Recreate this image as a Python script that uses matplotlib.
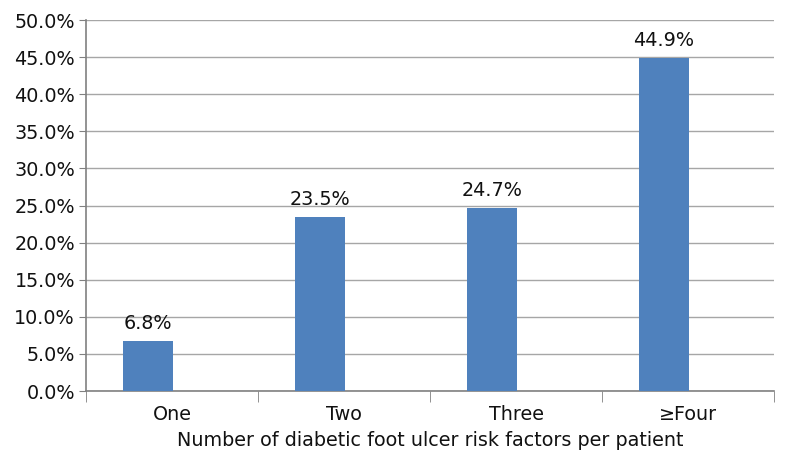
'''Répartition des patients selon le nombre de facteurs de risque'''

import matplotlib.pyplot as plt
from matplotlib.ticker import FixedLocator, FuncFormatter, MultipleLocator

categories = ['One', 'Two', 'Three', '\u2265Four']
valeurs = [6.8, 23.5, 24.7, 44.9]
etiquettes = ['6.8%', '23.5%', '24.7%', '44.9%']

fig = plt.figure(figsize=(7.85, 4.59), dpi=100)
ax = fig.add_axes([0.1096, 0.148, 0.8764, 0.8084])

x = list(range(len(categories)))
decalage = -0.14
barres = ax.bar([i + decalage for i in x], valeurs, width=0.29, color='#4F81BD', zorder=3)
for b, txt in zip(barres, etiquettes):
    ax.text(b.get_x() + b.get_width() / 2, b.get_height() + 1.0, txt,
            ha='center', va='bottom', fontsize=13.8, color='#111111')

ax.set_xlim(-0.5, len(categories) - 0.5)
ax.set_ylim(0, 50)
ax.yaxis.set_major_locator(MultipleLocator(5))
ax.yaxis.set_major_formatter(FuncFormatter(lambda v, p: f'{v:.1f}%'))
ax.grid(axis='y', color='#A6A6A6', linewidth=1.0, zorder=0)

ax.set_xticks(x)
ax.set_xticklabels(categories, fontsize=13.8, color='#111111')
ax.xaxis.set_minor_locator(FixedLocator([i - 0.5 for i in range(len(categories) + 1)]))
ax.tick_params(axis='x', which='major', length=0, pad=10)
ax.tick_params(axis='x', which='minor', length=8, color='#808080', direction='out')
ax.tick_params(axis='y', length=5, color='#808080', labelsize=13.8, labelcolor='#111111', pad=3)

for cote in ['top', 'right']:
    ax.spines[cote].set_visible(False)
for cote in ['left', 'bottom']:
    ax.spines[cote].set_color('#808080')
    ax.spines[cote].set_linewidth(1.2)

ax.set_xlabel('Number of diabetic foot ulcer risk factors per patient', fontsize=13.8,
              color='#111111', labelpad=5)

fig.savefig('out.png', dpi=100)
